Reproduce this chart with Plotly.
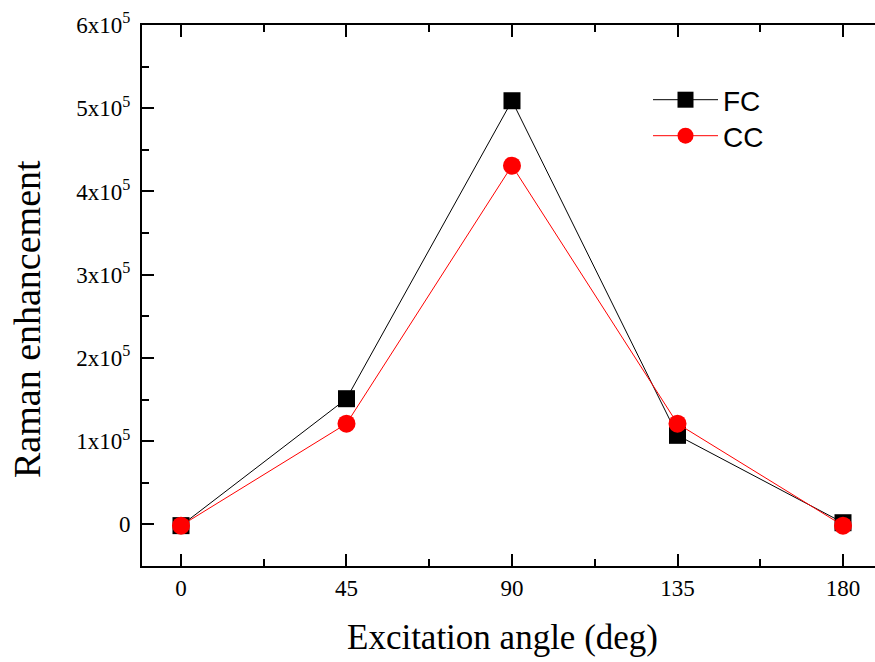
import plotly.graph_objects as go

angles = [0, 45, 90, 135, 180]
fc_values = [-1500, 151000, 509000, 107000, 2000]
cc_values = [-1500, 121000, 431000, 121000, -1500]
y_tick_vals = [0, 100000, 200000, 300000, 400000, 500000, 600000]
y_tick_text = ["0", "1x10<sup>5</sup>", "2x10<sup>5</sup>", "3x10<sup>5</sup>",
               "4x10<sup>5</sup>", "5x10<sup>5</sup>", "6x10<sup>5</sup>"]
x_tick_vals = [0, 45, 90, 135, 180]

serif = "Times New Roman, Liberation Serif, serif"
sans = "Arial, Liberation Sans, sans-serif"

fig = go.Figure()
fig.add_trace(go.Scatter(
    x=angles, y=fc_values, name="FC", mode="lines+markers",
    line=dict(color="black", width=1),
    marker=dict(symbol="square", size=17, color="black"),
    legend="legend",
))
fig.add_trace(go.Scatter(
    x=angles, y=cc_values, name="CC", mode="lines+markers",
    line=dict(color="red", width=1),
    marker=dict(symbol="circle", size=18, color="red"),
    legend="legend2",
))

legend_common = dict(xanchor="left", yanchor="middle", itemwidth=65,
                     font=dict(family=sans, size=28, color="black"),
                     bgcolor="rgba(0,0,0,0)")

fig.update_layout(
    width=875, height=662,
    margin=dict(l=142, r=0, t=25, b=96),
    paper_bgcolor="white", plot_bgcolor="white",
    showlegend=True,
    legend=dict(x=(648 - 142) / 733, y=(566 - 100) / 541, **legend_common),
    legend2=dict(x=(648 - 142) / 733, y=(566 - 136) / 541, **legend_common),
    xaxis=dict(
        range=[-10.6, 188.7], tickvals=x_tick_vals,
        showgrid=False, zeroline=False,
        showline=True, linecolor="black", linewidth=2, mirror="ticks",
        ticks="inside", ticklen=12, tickwidth=2, tickcolor="black",
        minor=dict(dtick=22.5, tick0=0, ticks="inside", ticklen=7,
                   tickwidth=2, tickcolor="black", showgrid=False),
        tickfont=dict(family=serif, size=23, color="black"),
        ticklabelstandoff=0,
    ),
    yaxis=dict(
        range=[-50000, 600000], tickvals=y_tick_vals, ticktext=y_tick_text,
        showgrid=False, zeroline=False,
        showline=True, linecolor="black", linewidth=2, mirror=False,
        ticks="inside", ticklen=12, tickwidth=2, tickcolor="black",
        minor=dict(dtick=50000, tick0=0, ticks="inside", ticklen=7,
                   tickwidth=2, tickcolor="black", showgrid=False),
        tickfont=dict(family=serif, size=23, color="black"),
        ticklabelstandoff=5,
    ),
    yaxis2=dict(
        overlaying="y", side="right", anchor="x",
        range=[-50000, 600000], tickvals=y_tick_vals,
        showticklabels=False, showgrid=False, zeroline=False, showline=False,
        ticks="inside", ticklen=5, tickwidth=2, tickcolor="black",
        minor=dict(dtick=50000, tick0=0, ticks="inside", ticklen=3,
                   tickwidth=2, tickcolor="black", showgrid=False),
    ),
    annotations=[
        dict(text="Excitation angle (deg)", xref="paper", yref="paper",
             x=(502 - 142) / 733, y=(566 - 637) / 541,
             xanchor="center", yanchor="middle", showarrow=False,
             font=dict(family=serif, size=35, color="black")),
        dict(text="Raman enhancement", xref="paper", yref="paper",
             x=(27 - 142) / 733, y=(566 - 319) / 541, textangle=-90,
             xanchor="center", yanchor="middle", showarrow=False,
             font=dict(family=serif, size=38, color="black")),
    ],
)

fig.write_html("out.html")
